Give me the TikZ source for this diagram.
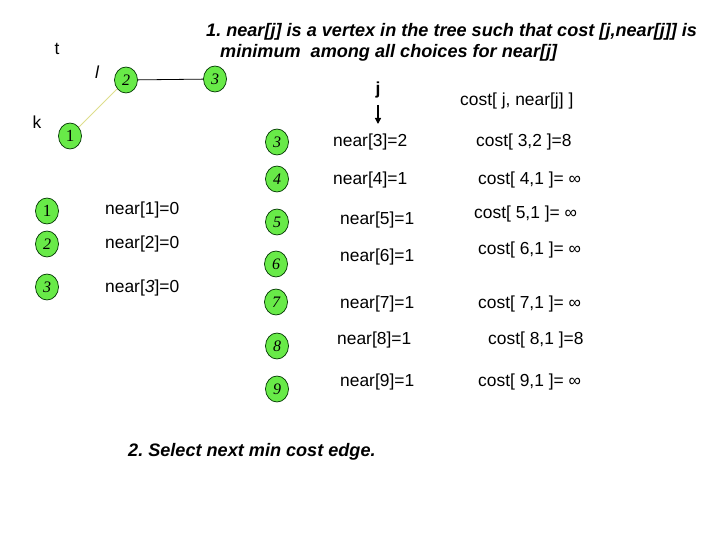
\documentclass[tikz,border=0pt]{standalone}
\usepackage{fontspec}
\setmainfont{Liberation Sans}
\newfontfamily\numfont{Liberation Serif}
\usetikzlibrary{shapes.geometric,arrows.meta}
\definecolor{nodegreen}{RGB}{104,234,72}
\definecolor{edgeyellow}{RGB}{222,222,140}
\tikzset{
  vtx/.style={ellipse, draw=black!80!green, fill=nodegreen, line width=0.7pt,
    minimum width=23pt, minimum height=26pt, inner sep=0pt,
    font=\fontsize{16}{16}\selectfont\numfont\itshape},
  vtxup/.style={vtx, font=\fontsize{17}{17}\selectfont\numfont},
  txt/.style={anchor=west, inner sep=0pt, font=\fontsize{17.4}{20}\selectfont},
  lbl/.style={inner sep=0pt, font=\fontsize{17.4}{20}\selectfont},
  title/.style={anchor=west, inner sep=0pt, font=\fontsize{18.1}{20}\selectfont\bfseries\itshape},
}
\begin{document}
\frenchspacing
\begin{tikzpicture}[x=1pt,y=-1pt]
\useasboundingbox (0,0) rectangle (720,540);
\fill[white] (0,0) rectangle (720,540);
% title
\node[title] (title1) at (206,32) {1. near[j] is a vertex in the tree such that cost [j,near[j]] is};
\node[title] (title2) at (220,53) {minimum\ \ among all choices for near[j]};
% tree
\node[vtxup] (t1) at (70,136) {1};
\node[vtx] (t2) at (126,80) {2};
\node[vtx] (t3) at (215,79) {3};
\draw[edgeyellow, line width=0.8pt] (t1) -- (t2);
\draw[black, line width=0.8pt] (t2) -- (t3);
\node[lbl] (lt) at (57,49) {t};
\node[lbl] (ll) at (97,72) {\itshape l};
\node[lbl] (lk) at (37,122) {k};
% left list
\node[vtxup] (a1) at (47,211) {1};
\node[vtx] (a2) at (47,244) {2};
\node[vtx] (a3) at (47,287) {3};
\node[txt] (n1) at (105,210) {near[1]=0};
\node[txt] (n2) at (105,244) {near[2]=0};
\node[txt] (n3) at (105,288) {near[{\itshape 3}]=0};
% header
\node[lbl, font=\fontsize{17.4}{20}\selectfont\bfseries] (j) at (378,90) {j};
\coordinate (jend) at (378,124);
\draw[line width=1.3pt, -{Triangle[length=6pt,width=6pt]}] (378,105) -- (jend);
\node[txt] (ch) at (460,101) {cost[ j, near[j] ]};
% right column
\node[vtx] (b3) at (277,142) {3};
\node[vtx] (b4) at (277,179) {4};
\node[vtx] (b5) at (277,222) {5};
\node[vtx] (b6) at (276,264) {6};
\node[vtx] (b7) at (276,302) {7};
\node[vtx] (b8) at (277,346) {8};
\node[vtx] (b9) at (277,389) {9};
\node[txt] (r3) at (333,142) {near[3]=2};
\node[txt] (r4) at (333,180) {near[4]=1};
\node[txt] (r5) at (340,220) {near[5]=1};
\node[txt] (r6) at (340,257) {near[6]=1};
\node[txt] (r7) at (340,304) {near[7]=1};
\node[txt] (r8) at (337,340) {near[8]=1};
\node[txt] (r9) at (340,382) {near[9]=1};
\node[txt] (c3) at (476,142) {cost[ 3,2 ]=8};
\node[txt] (c4) at (478,180) {cost[ 4,1 ]= ∞};
\node[txt] (c5) at (474,214) {cost[ 5,1 ]= ∞};
\node[txt] (c6) at (478,250) {cost[ 6,1 ]= ∞};
\node[txt] (c7) at (478,304) {cost[ 7,1 ]= ∞};
\node[txt] (c8) at (488,340) {cost[ 8,1 ]=8};
\node[txt] (c9) at (478,382) {cost[ 9,1 ]= ∞};
% bottom
\node[title] (sel) at (128,452) {2. Select next min cost edge.};
\end{tikzpicture}
\end{document}
